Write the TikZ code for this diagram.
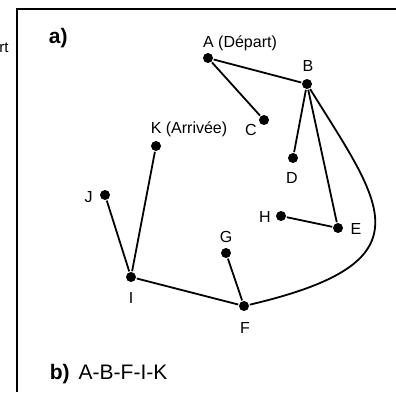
\documentclass[tikz,border=0pt]{standalone}
\usepackage{fontspec}
\setmainfont{Liberation Sans}
\tikzset{
  pt/.style={circle,fill=black,inner sep=0pt,minimum size=10pt},
  lab/.style={font=\fontsize{16}{19}\selectfont,inner sep=0pt,anchor=base},
  big/.style={font=\fontsize{21}{25}\selectfont,inner sep=0pt,anchor=base west},
}
\begin{document}
\begin{tikzpicture}[x=1pt,y=-1pt,line width=1.8pt]
  \useasboundingbox (0,0) rectangle (396,392);
  \node[lab,anchor=base east,font=\fontsize{15}{18}\selectfont] (prev) at (9.5,52) {rt};
  \draw[line width=2.2pt] (396,9) -- (17,9) -- (17,392);
  \foreach \n/\x/\y in {A/208/58,B/307/84,C/264/120,D/293/158,E/338/228,F/244/306,
                        G/226/253,H/281/216,I/131/277,J/105/195,K/156/146}
    \node[pt] (\n) at (\x,\y) {};
  \foreach \n/\x/\y/\t in {A/240/47/{A (Départ)},B/308/71/B,C/251/135/C,D/292/183/D,
                           E/356/234/E,F/245/333/F,G/226/242/G,H/265/222/H,
                           I/131/303/I,J/88.5/202/J,K/189/133/{K (Arrivée)}}
    \node[lab] (l\n) at (\x,\y) {\t};
  \draw (A) -- (B);
  \draw (A) -- (C);
  \draw (B) -- (D);
  \draw (B) -- (E);
  \draw (E) -- (H);
  \draw (B) .. controls (382,205) and (432,262) .. (F);
  \draw (F) -- (G);
  \draw (F) -- (I);
  \draw (I) -- (J);
  \draw (I) -- (K);
  \node[big] (parta) at (48,43) {\bfseries a)};
  \node[big] (partb) at (49,379) {\textbf{b)}\hspace{9pt}A-B-F-I-K};
\end{tikzpicture}
\end{document}
